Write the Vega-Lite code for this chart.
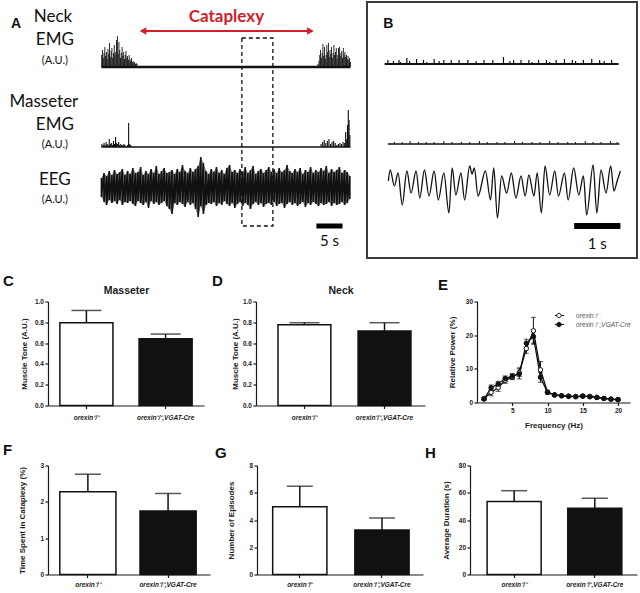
{
"$schema":"https://vega.github.io/schema/vega-lite/v6.json",
"background":"white",
"padding":{"left":3,"top":1,"right":0,"bottom":0},
"config":{
 "view":{"stroke":null},
 "axis":{"grid":false,"labelOverlap":false,"domainColor":"#1a1a1a","tickColor":"#1a1a1a","labelColor":"#1a1a1a","titleColor":"#1a1a1a","labelFont":"Liberation Sans","titleFont":"Liberation Sans","labelFontWeight":"bold","titleFontWeight":"bold","labelFontSize":6.5,"titleFontSize":8,"tickSize":3,"labelPadding":1.5,"domainWidth":1.2,"tickWidth":1.2},
 "title":{"font":"Liberation Sans","fontWeight":"bold","fontSize":15,"color":"#111","anchor":"start","frame":"group"},
 "text":{"font":"Liberation Sans"}
},
"resolve":{"scale":{"fill":"independent"},"legend":{"fill":"independent"}},
"vconcat":[
 {"hconcat":[
  {"width":317,"height":256,
   "resolve":{"scale":{"y":"independent"}},
   "layer":[
    {"data":{"values":[{"t":0.05,"a":12},{"t":0.2,"a":17},{"t":0.35,"a":9},{"t":0.5,"a":14},{"t":0.65,"a":20},{"t":0.8,"a":11},{"t":0.95,"a":15},{"t":1.1,"a":8},{"t":1.25,"a":18},{"t":1.4,"a":13},{"t":1.55,"a":24},{"t":1.7,"a":10},{"t":1.85,"a":16},{"t":2.0,"a":19},{"t":2.15,"a":9},{"t":2.3,"a":14},{"t":2.45,"a":22},{"t":2.6,"a":12},{"t":2.75,"a":15},{"t":2.9,"a":27},{"t":3.05,"a":31},{"t":3.2,"a":13},{"t":3.35,"a":25},{"t":3.5,"a":17},{"t":3.65,"a":9},{"t":3.8,"a":14},{"t":3.95,"a":20},{"t":4.1,"a":11},{"t":4.25,"a":15},{"t":4.4,"a":8},{"t":4.55,"a":12},{"t":4.7,"a":16},{"t":4.85,"a":9},{"t":5.0,"a":11},{"t":5.15,"a":7},{"t":5.3,"a":12},{"t":5.45,"a":8},{"t":5.6,"a":6},{"t":5.75,"a":9},{"t":5.9,"a":5},{"t":6.05,"a":6},{"t":6.2,"a":4},{"t":6.35,"a":5},{"t":6.5,"a":3},{"t":6.65,"a":4},{"t":6.8,"a":3},
      {"t":41.4,"a":3},{"t":41.6,"a":6},{"t":41.75,"a":12},{"t":41.9,"a":17},{"t":42.05,"a":9},{"t":42.2,"a":14},{"t":42.35,"a":23},{"t":42.5,"a":11},{"t":42.65,"a":20},{"t":42.8,"a":8},{"t":42.95,"a":12},{"t":43.1,"a":22},{"t":43.25,"a":15},{"t":43.4,"a":24},{"t":43.55,"a":10},{"t":43.7,"a":17},{"t":43.85,"a":13},{"t":44.0,"a":20},{"t":44.15,"a":9},{"t":44.3,"a":14},{"t":44.45,"a":22},{"t":44.6,"a":12},{"t":44.75,"a":15},{"t":44.9,"a":19},{"t":45.05,"a":8},{"t":45.2,"a":12},{"t":45.35,"a":19},{"t":45.5,"a":20},{"t":45.65,"a":11},{"t":45.8,"a":14},{"t":45.95,"a":16},{"t":46.1,"a":9},{"t":46.25,"a":19},{"t":46.4,"a":12},{"t":46.55,"a":15},{"t":46.7,"a":10},{"t":46.85,"a":12},{"t":47.0,"a":8},{"t":47.15,"a":11},{"t":47.3,"a":7},{"t":47.45,"a":9},{"t":47.6,"a":5}]},
     "mark":{"type":"bar","orient":"vertical","size":0.9,"color":"#111"},
     "encoding":{"x":{"field":"t","type":"quantitative","scale":{"domain":[-9.26,49.44],"nice":false,"zero":false},"axis":null},
      "y":{"field":"a","type":"quantitative","scale":{"domain":[-191,65],"nice":false},"axis":null}}},
    {"data":{"values":[{"t0":0,"t1":47.6}]},"mark":{"type":"rule","strokeWidth":2.5,"color":"#111"},
     "encoding":{"x":{"field":"t0","type":"quantitative","scale":{"domain":[-9.26,49.44],"nice":false,"zero":false},"axis":null},"x2":{"field":"t1"},
      "y":{"datum":0,"type":"quantitative","scale":{"domain":[-191,65],"nice":false},"axis":null}}},
    {"data":{"values":[{"t":0.1,"a":3},{"t":0.3,"a":2},{"t":0.5,"a":4},{"t":0.7,"a":2},{"t":0.9,"a":5},{"t":1.1,"a":3},{"t":1.3,"a":2},{"t":1.5,"a":8},{"t":1.7,"a":3},{"t":1.9,"a":4},{"t":2.1,"a":2},{"t":2.3,"a":6},{"t":2.5,"a":3},{"t":2.7,"a":10},{"t":2.9,"a":4},{"t":3.1,"a":3},{"t":3.3,"a":5},{"t":3.5,"a":2},{"t":3.7,"a":3},{"t":3.9,"a":2},{"t":4.1,"a":2},{"t":4.3,"a":3},{"t":4.5,"a":2},{"t":5.0,"a":2},{"t":5.2,"a":24},{"t":5.4,"a":3},{"t":5.6,"a":2},
      {"t":42.0,"a":3},{"t":42.3,"a":5},{"t":42.6,"a":7},{"t":42.9,"a":4},{"t":43.2,"a":6},{"t":43.5,"a":8},{"t":43.8,"a":3},{"t":44.1,"a":5},{"t":44.4,"a":6},{"t":44.7,"a":4},{"t":45.0,"a":2},{"t":45.3,"a":3},{"t":45.6,"a":4},{"t":45.9,"a":3},{"t":46.2,"a":5},{"t":46.5,"a":4},{"t":46.7,"a":15},{"t":46.9,"a":8},{"t":47.05,"a":22},{"t":47.2,"a":37},{"t":47.35,"a":27},{"t":47.5,"a":12}]},
     "mark":{"type":"bar","orient":"vertical","size":1.1,"color":"#111"},
     "encoding":{"x":{"field":"t","type":"quantitative","scale":{"domain":[-9.26,49.44],"nice":false,"zero":false},"axis":null},
      "y":{"field":"a","type":"quantitative","scale":{"domain":[-111,145],"nice":false},"axis":null}}},
    {"data":{"values":[{"t0":0,"t1":47.6}]},"mark":{"type":"rule","strokeWidth":1.6,"color":"#111"},
     "encoding":{"x":{"field":"t0","type":"quantitative","scale":{"domain":[-9.26,49.44],"nice":false,"zero":false},"axis":null},"x2":{"field":"t1"},
      "y":{"datum":0,"type":"quantitative","scale":{"domain":[-111,145],"nice":false},"axis":null}}},
    {"data":{"name":"eegA","values":[{"t":0.0,"hi":10,"lo":-9},{"t":0.5,"hi":15,"lo":-14},{"t":1.0,"hi":12,"lo":-17},{"t":1.5,"hi":17,"lo":-12},{"t":2.0,"hi":13,"lo":-15},{"t":2.5,"hi":18,"lo":-13},{"t":3.0,"hi":14,"lo":-16},{"t":3.5,"hi":16,"lo":-12},{"t":4.0,"hi":19,"lo":-17},{"t":4.5,"hi":13,"lo":-14},{"t":5.0,"hi":17,"lo":-15},{"t":5.5,"hi":14,"lo":-13},{"t":6.0,"hi":20,"lo":-16},{"t":6.5,"hi":15,"lo":-18},{"t":7.0,"hi":16,"lo":-13},{"t":7.5,"hi":21,"lo":-15},{"t":8.0,"hi":13,"lo":-17},{"t":8.5,"hi":17,"lo":-14},{"t":9.0,"hi":14,"lo":-20},{"t":9.5,"hi":19,"lo":-13},{"t":10.0,"hi":15,"lo":-16},{"t":10.5,"hi":22,"lo":-14},{"t":11.0,"hi":14,"lo":-17},{"t":11.5,"hi":17,"lo":-15},{"t":12.0,"hi":20,"lo":-13},{"t":12.5,"hi":15,"lo":-18},{"t":13.0,"hi":16,"lo":-21},{"t":13.5,"hi":18,"lo":-26},{"t":14.0,"hi":14,"lo":-15},{"t":14.5,"hi":19,"lo":-17},{"t":15.0,"hi":16,"lo":-14},{"t":15.5,"hi":23,"lo":-16},{"t":16.0,"hi":17,"lo":-19},{"t":16.5,"hi":15,"lo":-14},{"t":17.0,"hi":20,"lo":-17},{"t":17.5,"hi":16,"lo":-15},{"t":18.0,"hi":19,"lo":-21},{"t":18.5,"hi":22,"lo":-29},{"t":19.0,"hi":31,"lo":-18},{"t":19.5,"hi":25,"lo":-26},{"t":20.0,"hi":17,"lo":-17},{"t":20.5,"hi":14,"lo":-15},{"t":21.0,"hi":19,"lo":-16},{"t":21.5,"hi":16,"lo":-14},{"t":22.0,"hi":21,"lo":-18},{"t":22.5,"hi":15,"lo":-15},{"t":23.0,"hi":18,"lo":-17},{"t":23.5,"hi":14,"lo":-13},{"t":24.0,"hi":20,"lo":-16},{"t":24.5,"hi":23,"lo":-18},{"t":25.0,"hi":16,"lo":-15},{"t":25.5,"hi":18,"lo":-20},{"t":26.0,"hi":15,"lo":-16},{"t":26.5,"hi":19,"lo":-14},{"t":27.0,"hi":16,"lo":-18},{"t":27.5,"hi":21,"lo":-15},{"t":28.0,"hi":15,"lo":-17},{"t":28.5,"hi":18,"lo":-21},{"t":29.0,"hi":22,"lo":-16},{"t":29.5,"hi":14,"lo":-14},{"t":30.0,"hi":17,"lo":-17},{"t":30.5,"hi":19,"lo":-15},{"t":31.0,"hi":15,"lo":-19},{"t":31.5,"hi":18,"lo":-16},{"t":32.0,"hi":21,"lo":-15},{"t":32.5,"hi":16,"lo":-17},{"t":33.0,"hi":19,"lo":-14},{"t":33.5,"hi":15,"lo":-18},{"t":34.0,"hi":20,"lo":-16},{"t":34.5,"hi":16,"lo":-15},{"t":35.0,"hi":18,"lo":-20},{"t":35.5,"hi":23,"lo":-16},{"t":36.0,"hi":17,"lo":-14},{"t":36.5,"hi":15,"lo":-17},{"t":37.0,"hi":19,"lo":-15},{"t":37.5,"hi":16,"lo":-18},{"t":38.0,"hi":20,"lo":-16},{"t":38.5,"hi":14,"lo":-14},{"t":39.0,"hi":18,"lo":-19},{"t":39.5,"hi":16,"lo":-15},{"t":40.0,"hi":21,"lo":-17},{"t":40.5,"hi":15,"lo":-14},{"t":41.0,"hi":18,"lo":-16},{"t":41.5,"hi":16,"lo":-18},{"t":42.0,"hi":20,"lo":-15},{"t":42.5,"hi":17,"lo":-17},{"t":43.0,"hi":22,"lo":-16},{"t":43.5,"hi":15,"lo":-14},{"t":44.0,"hi":19,"lo":-18},{"t":44.5,"hi":16,"lo":-15},{"t":45.0,"hi":18,"lo":-17},{"t":45.5,"hi":21,"lo":-16},{"t":46.0,"hi":15,"lo":-14},{"t":46.5,"hi":18,"lo":-17},{"t":47.0,"hi":16,"lo":-15},{"t":47.5,"hi":12,"lo":-11}]},
     "mark":{"type":"area","color":"#111","opacity":0.55},
     "encoding":{"x":{"field":"t","type":"quantitative","scale":{"domain":[-9.26,49.44],"nice":false,"zero":false},"axis":null},
      "y":{"field":"hi","type":"quantitative","scale":{"domain":[-70,186],"nice":false},"axis":null},"y2":{"field":"lo"}}},
    {"data":{"name":"eegA"},
     "transform":[{"fold":["hi","lo"],"as":["k","v"]}],
     "mark":{"type":"line","color":"#111","strokeWidth":1.6},
     "encoding":{"x":{"field":"t","type":"quantitative","scale":{"domain":[-9.26,49.44],"nice":false,"zero":false},"axis":null},
      "y":{"field":"v","type":"quantitative","scale":{"domain":[-70,186],"nice":false},"axis":null},
      "order":[{"field":"t","type":"quantitative"},{"field":"k","type":"nominal"}]}},
    {"data":{"values":[{"t0":7.6,"t1":40.3}]},"mark":{"type":"rule","strokeWidth":2,"color":"#d0202a"},
     "encoding":{"x":{"field":"t0","type":"quantitative","scale":{"domain":[-9.26,49.44],"nice":false,"zero":false},"axis":null},"x2":{"field":"t1"},
      "y":{"datum":36,"type":"quantitative","scale":{"domain":[-191,65],"nice":false},"axis":null}}},
    {"data":{"values":[{}]},"mark":{"type":"point","shape":"triangle-left","filled":true,"size":60,"color":"#d0202a","opacity":1},
     "encoding":{"x":{"datum":7.95,"type":"quantitative","scale":{"domain":[-9.26,49.44],"nice":false,"zero":false},"axis":null},
      "y":{"datum":36,"type":"quantitative","scale":{"domain":[-191,65],"nice":false},"axis":null}}},
    {"data":{"values":[{}]},"mark":{"type":"point","shape":"triangle-right","filled":true,"size":60,"color":"#d0202a","opacity":1},
     "encoding":{"x":{"datum":39.96,"type":"quantitative","scale":{"domain":[-9.26,49.44],"nice":false,"zero":false},"axis":null},
      "y":{"datum":36,"type":"quantitative","scale":{"domain":[-191,65],"nice":false},"axis":null}}},
    {"data":{"values":[{}]},"mark":{"type":"text","text":"Cataplexy","font":"Lato","fontWeight":"bold","fontSize":17,"color":"#d0202a","baseline":"middle"},
     "encoding":{"x":{"datum":23.9,"type":"quantitative","scale":{"domain":[-9.26,49.44],"nice":false,"zero":false},"axis":null},
      "y":{"datum":50,"type":"quantitative","scale":{"domain":[-191,65],"nice":false},"axis":null}}},
    {"data":{"values":[{"t0":26.85,"t1":32.78,"top":29,"bottom":-159}]},"mark":{"type":"rect","fillOpacity":0,"stroke":"#111","strokeWidth":1.3,"strokeDash":[4,3]},
     "encoding":{"x":{"field":"t0","type":"quantitative","scale":{"domain":[-9.26,49.44],"nice":false,"zero":false},"axis":null},"x2":{"field":"t1"},
      "y":{"field":"top","type":"quantitative","scale":{"domain":[-191,65],"nice":false},"axis":null},"y2":{"field":"bottom"}}},
    {"data":{"values":[{"t0":41.1,"t1":46.1}]},"mark":{"type":"rule","strokeWidth":5,"color":"#000"},
     "encoding":{"x":{"field":"t0","type":"quantitative","scale":{"domain":[-9.26,49.44],"nice":false,"zero":false},"axis":null},"x2":{"field":"t1"},
      "y":{"datum":-38,"type":"quantitative","scale":{"domain":[-70,186],"nice":false},"axis":null}}},
    {"data":{"values":[{}]},"mark":{"type":"text","text":"5 s","font":"Lato","fontSize":15,"color":"#111","baseline":"middle"},
     "encoding":{"x":{"datum":43.6,"type":"quantitative","scale":{"domain":[-9.26,49.44],"nice":false,"zero":false},"axis":null},
      "y":{"datum":-53,"type":"quantitative","scale":{"domain":[-70,186],"nice":false},"axis":null}}},
    {"data":{"values":[{}]},"mark":{"type":"text","text":"A","font":"Liberation Sans","fontWeight":"bold","fontSize":14,"color":"#111","baseline":"middle"},
     "encoding":{"x":{"datum":-16.3,"type":"quantitative","scale":{"domain":[-9.26,49.44],"nice":false,"zero":false},"axis":null},
      "y":{"datum":43,"type":"quantitative","scale":{"domain":[-191,65],"nice":false},"axis":null}}},
    {"data":{"values":[{}]},"mark":{"type":"text","text":"Neck","font":"Lato","fontSize":17,"color":"#111","baseline":"middle"},
     "encoding":{"x":{"datum":-9.26,"type":"quantitative","scale":{"domain":[-9.26,49.44],"nice":false,"zero":false},"axis":null},
      "y":{"datum":50,"type":"quantitative","scale":{"domain":[-191,65],"nice":false},"axis":null}}},
    {"data":{"values":[{}]},"mark":{"type":"text","text":"EMG","font":"Lato","fontSize":17,"color":"#111","baseline":"middle"},
     "encoding":{"x":{"datum":-8.9,"type":"quantitative","scale":{"domain":[-9.26,49.44],"nice":false,"zero":false},"axis":null},
      "y":{"datum":27,"type":"quantitative","scale":{"domain":[-191,65],"nice":false},"axis":null}}},
    {"data":{"values":[{}]},"mark":{"type":"text","text":"(A.U.)","font":"Lato","fontSize":11,"color":"#111","baseline":"middle"},
     "encoding":{"x":{"datum":-8.9,"type":"quantitative","scale":{"domain":[-9.26,49.44],"nice":false,"zero":false},"axis":null},
      "y":{"datum":6,"type":"quantitative","scale":{"domain":[-191,65],"nice":false},"axis":null}}},
    {"data":{"values":[{}]},"mark":{"type":"text","text":"Masseter","font":"Lato","fontSize":17,"color":"#111","baseline":"middle"},
     "encoding":{"x":{"datum":-11.0,"type":"quantitative","scale":{"domain":[-9.26,49.44],"nice":false,"zero":false},"axis":null},
      "y":{"datum":45,"type":"quantitative","scale":{"domain":[-111,145],"nice":false},"axis":null}}},
    {"data":{"values":[{}]},"mark":{"type":"text","text":"EMG","font":"Lato","fontSize":17,"color":"#111","baseline":"middle"},
     "encoding":{"x":{"datum":-8.9,"type":"quantitative","scale":{"domain":[-9.26,49.44],"nice":false,"zero":false},"axis":null},
      "y":{"datum":22,"type":"quantitative","scale":{"domain":[-111,145],"nice":false},"axis":null}}},
    {"data":{"values":[{}]},"mark":{"type":"text","text":"(A.U.)","font":"Lato","fontSize":11,"color":"#111","baseline":"middle"},
     "encoding":{"x":{"datum":-8.9,"type":"quantitative","scale":{"domain":[-9.26,49.44],"nice":false,"zero":false},"axis":null},
      "y":{"datum":2,"type":"quantitative","scale":{"domain":[-111,145],"nice":false},"axis":null}}},
    {"data":{"values":[{}]},"mark":{"type":"text","text":"EEG","font":"Lato","fontSize":17,"color":"#111","baseline":"middle"},
     "encoding":{"x":{"datum":-8.9,"type":"quantitative","scale":{"domain":[-9.26,49.44],"nice":false,"zero":false},"axis":null},
      "y":{"datum":8,"type":"quantitative","scale":{"domain":[-70,186],"nice":false},"axis":null}}},
    {"data":{"values":[{}]},"mark":{"type":"text","text":"(A.U.)","font":"Lato","fontSize":11,"color":"#111","baseline":"middle"},
     "encoding":{"x":{"datum":-8.9,"type":"quantitative","scale":{"domain":[-9.26,49.44],"nice":false,"zero":false},"axis":null},
      "y":{"datum":-12,"type":"quantitative","scale":{"domain":[-70,186],"nice":false},"axis":null}}}
   ]},
  {"width":270,"height":256,
   "view":{"stroke":"#3c3c3c","strokeWidth":2},
   "resolve":{"scale":{"y":"independent"}},
   "layer":[
    {"data":{"values":[{}]},"mark":{"type":"text","text":"B","font":"Liberation Sans","fontWeight":"bold","fontSize":14,"color":"#111","baseline":"middle"},
     "encoding":{"x":{"datum":0,"type":"quantitative","scale":{"domain":[-0.354,5.271],"nice":false,"zero":false},"axis":null},
      "y":{"datum":40,"type":"quantitative","scale":{"domain":[-194,62],"nice":false},"axis":null}}},
    {"data":{"values":[{"t0":-0.08,"t1":4.98}]},"mark":{"type":"rule","strokeWidth":2,"color":"#111"},
     "encoding":{"x":{"field":"t0","type":"quantitative","scale":{"domain":[-0.354,5.271],"nice":false,"zero":false},"axis":null},"x2":{"field":"t1"},
      "y":{"datum":0,"type":"quantitative","scale":{"domain":[-194,62],"nice":false},"axis":null}}},
    {"data":{"values":[{"t":-0.01,"a":4},{"t":0.11,"a":3},{"t":0.23,"a":4},{"t":0.26,"a":2},{"t":0.4,"a":6},{"t":0.46,"a":3},{"t":0.61,"a":5},{"t":0.76,"a":4},{"t":0.83,"a":2},{"t":0.99,"a":5},{"t":1.1,"a":3},{"t":1.2,"a":4},{"t":1.36,"a":4},{"t":1.53,"a":4},{"t":1.72,"a":4},{"t":1.9,"a":3},{"t":2.07,"a":4},{"t":2.26,"a":4},{"t":2.49,"a":7},{"t":2.63,"a":3},{"t":2.71,"a":4},{"t":2.87,"a":4},{"t":3.04,"a":4},{"t":3.11,"a":2},{"t":3.25,"a":4},{"t":3.42,"a":4},{"t":3.49,"a":2},{"t":3.63,"a":4},{"t":3.81,"a":5},{"t":3.98,"a":4},{"t":4.05,"a":3},{"t":4.22,"a":4},{"t":4.4,"a":5},{"t":4.57,"a":4},{"t":4.67,"a":3},{"t":4.83,"a":4}]},
     "mark":{"type":"bar","orient":"vertical","size":1.2,"color":"#111"},
     "encoding":{"x":{"field":"t","type":"quantitative","scale":{"domain":[-0.354,5.271],"nice":false,"zero":false},"axis":null},
      "y":{"field":"a","type":"quantitative","scale":{"domain":[-194,62],"nice":false},"axis":null}}},
    {"data":{"values":[{"t0":-0.01,"t1":5.0}]},"mark":{"type":"rule","strokeWidth":1.5,"color":"#111"},
     "encoding":{"x":{"field":"t0","type":"quantitative","scale":{"domain":[-0.354,5.271],"nice":false,"zero":false},"axis":null},"x2":{"field":"t1"},
      "y":{"datum":0,"type":"quantitative","scale":{"domain":[-114,142],"nice":false},"axis":null}}},
    {"data":{"values":[{"t":0.13,"a":2},{"t":0.3,"a":2},{"t":0.47,"a":3},{"t":0.65,"a":2},{"t":0.82,"a":2},{"t":0.99,"a":2},{"t":1.2,"a":3},{"t":1.38,"a":2},{"t":1.58,"a":2},{"t":1.76,"a":2},{"t":1.97,"a":3},{"t":2.14,"a":2},{"t":2.35,"a":2},{"t":2.52,"a":2},{"t":2.73,"a":3},{"t":2.9,"a":2},{"t":3.11,"a":2},{"t":3.28,"a":2},{"t":3.49,"a":3},{"t":3.67,"a":2},{"t":3.88,"a":2},{"t":4.05,"a":2},{"t":4.26,"a":3},{"t":4.43,"a":2},{"t":4.6,"a":2},{"t":4.81,"a":3},{"t":4.95,"a":2}]},
     "mark":{"type":"bar","orient":"vertical","size":1,"color":"#111"},
     "encoding":{"x":{"field":"t","type":"quantitative","scale":{"domain":[-0.354,5.271],"nice":false,"zero":false},"axis":null},
      "y":{"field":"a","type":"quantitative","scale":{"domain":[-114,142],"nice":false},"axis":null}}},
    {"data":{"values":[{"t":0.0,"v":2},{"t":0.04,"v":13},{"t":0.13,"v":-3},{"t":0.21,"v":10},{"t":0.3,"v":-22},{"t":0.4,"v":12},{"t":0.49,"v":-10},{"t":0.6,"v":12},{"t":0.68,"v":-15},{"t":0.78,"v":13},{"t":0.88,"v":-13},{"t":0.99,"v":12},{"t":1.08,"v":-17},{"t":1.2,"v":10},{"t":1.31,"v":-30},{"t":1.38,"v":15},{"t":1.46,"v":-12},{"t":1.57,"v":10},{"t":1.65,"v":-17},{"t":1.76,"v":17},{"t":1.81,"v":9},{"t":1.86,"v":15},{"t":1.94,"v":-13},{"t":2.1,"v":12},{"t":2.21,"v":-17},{"t":2.28,"v":15},{"t":2.36,"v":-35},{"t":2.45,"v":7},{"t":2.56,"v":-10},{"t":2.66,"v":10},{"t":2.76,"v":-15},{"t":2.87,"v":7},{"t":2.96,"v":-13},{"t":3.04,"v":8},{"t":3.15,"v":-13},{"t":3.22,"v":10},{"t":3.31,"v":-30},{"t":3.39,"v":17},{"t":3.49,"v":-12},{"t":3.6,"v":12},{"t":3.68,"v":-13},{"t":3.81,"v":10},{"t":3.89,"v":-17},{"t":4.01,"v":15},{"t":4.12,"v":-12},{"t":4.22,"v":7},{"t":4.29,"v":-32},{"t":4.43,"v":18},{"t":4.51,"v":-30},{"t":4.6,"v":13},{"t":4.71,"v":-10},{"t":4.81,"v":17},{"t":4.88,"v":-8},{"t":4.95,"v":2},{"t":5.02,"v":12}]},
     "mark":{"type":"line","strokeWidth":1.3,"color":"#111","interpolate":"monotone"},
     "encoding":{"x":{"field":"t","type":"quantitative","scale":{"domain":[-0.354,5.271],"nice":false,"zero":false},"axis":null},
      "y":{"field":"v","type":"quantitative","scale":{"domain":[-75,181],"nice":false},"axis":null}}},
    {"data":{"values":[{"t0":4.02,"t1":5.02}]},"mark":{"type":"rule","strokeWidth":6,"color":"#000"},
     "encoding":{"x":{"field":"t0","type":"quantitative","scale":{"domain":[-0.354,5.271],"nice":false,"zero":false},"axis":null},"x2":{"field":"t1"},
      "y":{"datum":-43,"type":"quantitative","scale":{"domain":[-75,181],"nice":false},"axis":null}}},
    {"data":{"values":[{}]},"mark":{"type":"text","text":"1 s","font":"Lato","fontSize":15,"color":"#111","baseline":"middle"},
     "encoding":{"x":{"datum":4.52,"type":"quantitative","scale":{"domain":[-0.354,5.271],"nice":false,"zero":false},"axis":null},
      "y":{"datum":-61,"type":"quantitative","scale":{"domain":[-75,181],"nice":false},"axis":null}}}
   ]}
 ],"spacing":2,"bounds":"flush"},
 {"vconcat":[
  {"hconcat":[
   {"width":156,"height":104,
    "title":{"text":"C","dx":-45,"offset":-3.5},
    "data":{"values":[{"group":"orexin⁻/⁻","mean":0.795,"upper":0.914},{"group":"orexin⁻/⁻,VGAT-Cre","mean":0.642,"upper":0.687}]},
    "resolve":{"axis":{"x":"independent"}},
    "layer":[
     {"mark":{"type":"bar","stroke":"#111","strokeWidth":1.5},
      "encoding":{"x":{"field":"group","type":"nominal","sort":null,"scale":{"paddingInner":0.33,"paddingOuter":0.15,"align":0.5},"axis":{"orient":"bottom","title":null,"labelAngle":0,"labelFontStyle":"italic","labelFontSize":6.5,"labelPadding":6,"labelOverlap":false}},
       "y":{"field":"mean","type":"quantitative","scale":{"domain":[0,1],"nice":false},"axis":{"values":[0,0.2,0.4,0.6,0.8,1],"tickCount":12,"format":".1f","title":"Muscle Tone (A.U.)","titlePadding":6,"labelOverlap":false,"labelFlush":false}},
       "fill":{"condition":{"test":"indexof(datum.group,'VGAT')<0","value":"white"},"value":"#111"}}},
     {"mark":{"type":"rule","strokeWidth":1.5,"color":"#111"},
      "encoding":{"x":{"field":"group","type":"nominal","sort":null,"axis":null},"y":{"field":"mean","type":"quantitative"},"y2":{"field":"upper"}}},
     {"mark":{"type":"tick","thickness":1.5,"size":30,"color":"#111","orient":"horizontal"},
      "encoding":{"x":{"field":"group","type":"nominal","sort":null,"axis":{"orient":"top","title":"Masseter","labels":false,"ticks":false,"domain":false,"titleFontSize":10.5,"titlePadding":6}},"y":{"field":"upper","type":"quantitative"}}}
    ]},
   {"width":169,"height":104,
    "title":{"text":"D","dx":-44,"offset":-3.5},
    "data":{"values":[{"group":"orexin⁻/⁻","mean":0.777,"upper":0.796},{"group":"orexin⁻/⁻,VGAT-Cre","mean":0.717,"upper":0.796}]},
    "resolve":{"axis":{"x":"independent"}},
    "layer":[
     {"mark":{"type":"bar","stroke":"#111","strokeWidth":1.5},
      "encoding":{"x":{"field":"group","type":"nominal","sort":null,"scale":{"paddingInner":0.34,"paddingOuter":0.225,"align":0.61},"axis":{"orient":"bottom","title":null,"labelAngle":0,"labelFontStyle":"italic","labelFontSize":6.5,"labelPadding":6,"labelOverlap":false}},
       "y":{"field":"mean","type":"quantitative","scale":{"domain":[0,1],"nice":false},"axis":{"values":[0,0.2,0.4,0.6,0.8,1],"tickCount":12,"format":".1f","title":"Muscle Tone (A.U.)","titlePadding":3,"labelOverlap":false,"labelFlush":false}},
       "fill":{"condition":{"test":"indexof(datum.group,'VGAT')<0","value":"white"},"value":"#111"}}},
     {"mark":{"type":"rule","strokeWidth":1.5,"color":"#111"},
      "encoding":{"x":{"field":"group","type":"nominal","sort":null,"axis":null},"y":{"field":"mean","type":"quantitative"},"y2":{"field":"upper"}}},
     {"mark":{"type":"tick","thickness":1.5,"size":30,"color":"#111","orient":"horizontal"},
      "encoding":{"x":{"field":"group","type":"nominal","sort":null,"axis":{"orient":"top","title":"Neck","labels":false,"ticks":false,"domain":false,"titleFontSize":10.5,"titlePadding":6}},"y":{"field":"upper","type":"quantitative"}}}
    ]},
   {"width":153,"height":101,
    "title":{"text":"E","dx":-39,"offset":6},
    "data":{"values":[
     {"hz":1,"group":"orexin⁻/⁻","mean":1.2,"lo":0.9,"hi":1.5},{"hz":2,"group":"orexin⁻/⁻","mean":3.0,"lo":2.0,"hi":4.0},{"hz":3,"group":"orexin⁻/⁻","mean":4.4,"lo":3.3,"hi":5.5},{"hz":4,"group":"orexin⁻/⁻","mean":6.6,"lo":5.7,"hi":7.5},{"hz":5,"group":"orexin⁻/⁻","mean":7.5,"lo":6.8,"hi":8.3},{"hz":6,"group":"orexin⁻/⁻","mean":8.9,"lo":7.7,"hi":10.3},{"hz":7,"group":"orexin⁻/⁻","mean":16.0,"lo":14.6,"hi":17.6},{"hz":8,"group":"orexin⁻/⁻","mean":21.3,"lo":17.3,"hi":25.3},{"hz":9,"group":"orexin⁻/⁻","mean":9.7,"lo":7.6,"hi":12.2},{"hz":10,"group":"orexin⁻/⁻","mean":3.1,"lo":2.6,"hi":3.6},{"hz":11,"group":"orexin⁻/⁻","mean":2.2,"lo":1.9,"hi":2.5},{"hz":12,"group":"orexin⁻/⁻","mean":2.0,"lo":1.8,"hi":2.2},{"hz":13,"group":"orexin⁻/⁻","mean":1.8,"lo":1.6,"hi":2.0},{"hz":14,"group":"orexin⁻/⁻","mean":1.7,"lo":1.5,"hi":1.9},{"hz":15,"group":"orexin⁻/⁻","mean":1.9,"lo":1.6,"hi":2.2},{"hz":16,"group":"orexin⁻/⁻","mean":1.8,"lo":1.5,"hi":2.1},{"hz":17,"group":"orexin⁻/⁻","mean":1.5,"lo":1.3,"hi":1.7},{"hz":18,"group":"orexin⁻/⁻","mean":1.2,"lo":1.0,"hi":1.4},{"hz":19,"group":"orexin⁻/⁻","mean":1.0,"lo":0.8,"hi":1.2},{"hz":20,"group":"orexin⁻/⁻","mean":0.8,"lo":0.6,"hi":1.0},
     {"hz":1,"group":"orexin⁻/⁻,VGAT-Cre","mean":1.0,"lo":0.7,"hi":1.3},{"hz":2,"group":"orexin⁻/⁻,VGAT-Cre","mean":4.4,"lo":3.6,"hi":5.2},{"hz":3,"group":"orexin⁻/⁻,VGAT-Cre","mean":5.5,"lo":4.7,"hi":6.3},{"hz":4,"group":"orexin⁻/⁻,VGAT-Cre","mean":7.1,"lo":6.3,"hi":7.9},{"hz":5,"group":"orexin⁻/⁻,VGAT-Cre","mean":7.8,"lo":7.0,"hi":8.6},{"hz":6,"group":"orexin⁻/⁻,VGAT-Cre","mean":8.5,"lo":7.0,"hi":10.0},{"hz":7,"group":"orexin⁻/⁻,VGAT-Cre","mean":17.6,"lo":16.4,"hi":18.8},{"hz":8,"group":"orexin⁻/⁻,VGAT-Cre","mean":19.6,"lo":17.6,"hi":21.6},{"hz":9,"group":"orexin⁻/⁻,VGAT-Cre","mean":7.5,"lo":6.0,"hi":9.0},{"hz":10,"group":"orexin⁻/⁻,VGAT-Cre","mean":3.0,"lo":2.5,"hi":3.5},{"hz":11,"group":"orexin⁻/⁻,VGAT-Cre","mean":2.3,"lo":2.0,"hi":2.6},{"hz":12,"group":"orexin⁻/⁻,VGAT-Cre","mean":2.0,"lo":1.8,"hi":2.2},{"hz":13,"group":"orexin⁻/⁻,VGAT-Cre","mean":1.9,"lo":1.7,"hi":2.1},{"hz":14,"group":"orexin⁻/⁻,VGAT-Cre","mean":1.8,"lo":1.6,"hi":2.0},{"hz":15,"group":"orexin⁻/⁻,VGAT-Cre","mean":1.9,"lo":1.6,"hi":2.2},{"hz":16,"group":"orexin⁻/⁻,VGAT-Cre","mean":1.7,"lo":1.4,"hi":2.0},{"hz":17,"group":"orexin⁻/⁻,VGAT-Cre","mean":1.5,"lo":1.3,"hi":1.7},{"hz":18,"group":"orexin⁻/⁻,VGAT-Cre","mean":1.2,"lo":1.0,"hi":1.4},{"hz":19,"group":"orexin⁻/⁻,VGAT-Cre","mean":1.0,"lo":0.8,"hi":1.2},{"hz":20,"group":"orexin⁻/⁻,VGAT-Cre","mean":0.9,"lo":0.7,"hi":1.1}]},
    "layer":[
     {"mark":{"type":"rule","strokeWidth":1,"color":"#111"},
      "encoding":{"x":{"field":"hz","type":"quantitative","scale":{"domain":[0,21.7],"nice":false,"zero":false},"axis":{"values":[5,10,15,20],"tickCount":12,"title":"Frequency (Hz)","titlePadding":8,"labelOverlap":false}},
       "y":{"field":"lo","type":"quantitative","scale":{"domain":[0,30],"nice":false},"axis":{"values":[0,10,20,30],"tickCount":12,"title":"Relative Power (%)","titlePadding":9,"labelOverlap":false,"labelFlush":false}},"y2":{"field":"hi"}}},
     {"mark":{"type":"tick","orient":"horizontal","size":5,"thickness":1,"color":"#111"},
      "encoding":{"x":{"field":"hz","type":"quantitative"},"y":{"field":"hi","type":"quantitative"}}},
     {"mark":{"type":"tick","orient":"horizontal","size":5,"thickness":1,"color":"#111"},
      "encoding":{"x":{"field":"hz","type":"quantitative"},"y":{"field":"lo","type":"quantitative"}}},
     {"mark":{"type":"line","strokeWidth":1.3,"color":"#111"},
      "encoding":{"x":{"field":"hz","type":"quantitative"},"y":{"field":"mean","type":"quantitative"},"detail":{"field":"group","type":"nominal"}}},
     {"mark":{"type":"point","filled":true,"size":20,"stroke":"#111","strokeWidth":1,"opacity":1},
      "encoding":{"x":{"field":"hz","type":"quantitative"},"y":{"field":"mean","type":"quantitative"},
       "fill":{"field":"group","type":"nominal","scale":{"domain":["orexin⁻/⁻","orexin⁻/⁻,VGAT-Cre"],"range":["white","#111"]},
        "legend":{"title":null,"orient":"none","legendX":78,"legendY":10,"symbolType":"M-1.6,0L-0.7,0M0.7,0L1.6,0M0.7,0A0.7,0.7,0,1,1,-0.7,0A0.7,0.7,0,1,1,0.7,0","symbolSize":40,"symbolStrokeColor":"#111","symbolStrokeWidth":1,"labelFontSize":6.5,"labelFontStyle":"italic","labelFont":"Liberation Sans","labelColor":"#555","labelOffset":13,"rowPadding":1,"clipHeight":8}}}}
    ]}
  ],"spacing":52,"bounds":"flush","resolve":{"scale":{"fill":"independent"},"legend":{"fill":"independent"}}},
  {"hconcat":[
   {"width":162,"height":109,
    "title":{"text":"F","dx":-45,"offset":5},
    "data":{"values":[{"group":"orexin⁻/⁻","mean":2.28,"upper":2.76},{"group":"orexin⁻/⁻,VGAT-Cre","mean":1.75,"upper":2.23}]},
    "layer":[
     {"mark":{"type":"bar","stroke":"#111","strokeWidth":1.5},
      "encoding":{"x":{"field":"group","type":"nominal","sort":null,"scale":{"paddingInner":0.3,"paddingOuter":0.16,"align":0.46},"axis":{"title":null,"labelAngle":0,"labelFontStyle":"italic","labelFontSize":6.5,"labelPadding":4,"labelOverlap":false}},
       "y":{"field":"mean","type":"quantitative","scale":{"domain":[0,3],"nice":false},"axis":{"values":[0,1,2,3],"tickCount":12,"format":"d","title":"Time Spent in Cataplexy (%)","titleX":-22,"labelOverlap":false,"labelFlush":false}},
       "fill":{"condition":{"test":"indexof(datum.group,'VGAT')<0","value":"white"},"value":"#111"}}},
     {"mark":{"type":"rule","strokeWidth":1.5,"color":"#111"},
      "encoding":{"x":{"field":"group","type":"nominal","sort":null},"y":{"field":"mean","type":"quantitative"},"y2":{"field":"upper"}}},
     {"mark":{"type":"tick","thickness":1.5,"size":26,"color":"#111","orient":"horizontal"},
      "encoding":{"x":{"field":"group","type":"nominal","sort":null},"y":{"field":"upper","type":"quantitative"}}}
    ]},
   {"width":166,"height":109,
    "title":{"text":"G","dx":-42,"offset":2},
    "data":{"values":[{"group":"orexin⁻/⁻","mean":4.98,"upper":6.48},{"group":"orexin⁻/⁻,VGAT-Cre","mean":3.26,"upper":4.15}]},
    "layer":[
     {"mark":{"type":"bar","stroke":"#111","strokeWidth":1.5},
      "encoding":{"x":{"field":"group","type":"nominal","sort":null,"scale":{"paddingInner":0.34,"paddingOuter":0.18,"align":0.53},"axis":{"title":null,"labelAngle":0,"labelFontStyle":"italic","labelFontSize":6.5,"labelPadding":4,"labelOverlap":false}},
       "y":{"field":"mean","type":"quantitative","scale":{"domain":[0,8],"nice":false},"axis":{"values":[0,2,4,6,8],"tickCount":12,"format":"d","title":"Number of Episodes","titlePadding":13,"labelOverlap":false,"labelFlush":false}},
       "fill":{"condition":{"test":"indexof(datum.group,'VGAT')<0","value":"white"},"value":"#111"}}},
     {"mark":{"type":"rule","strokeWidth":1.5,"color":"#111"},
      "encoding":{"x":{"field":"group","type":"nominal","sort":null},"y":{"field":"mean","type":"quantitative"},"y2":{"field":"upper"}}},
     {"mark":{"type":"tick","thickness":1.5,"size":26,"color":"#111","orient":"horizontal"},
      "encoding":{"x":{"field":"group","type":"nominal","sort":null},"y":{"field":"upper","type":"quantitative"}}}
    ]},
   {"width":167,"height":109,
    "title":{"text":"H","dx":-45,"offset":2},
    "data":{"values":[{"group":"orexin⁻/⁻","mean":53.6,"upper":61.5},{"group":"orexin⁻/⁻,VGAT-Cre","mean":48.6,"upper":56.0}]},
    "layer":[
     {"mark":{"type":"bar","stroke":"#111","strokeWidth":1.5},
      "encoding":{"x":{"field":"group","type":"nominal","sort":null,"scale":{"paddingInner":0.33,"paddingOuter":0.2,"align":0.53},"axis":{"title":null,"labelAngle":0,"labelFontStyle":"italic","labelFontSize":6.5,"labelPadding":4,"labelOverlap":false}},
       "y":{"field":"mean","type":"quantitative","scale":{"domain":[0,80],"nice":false},"axis":{"values":[0,20,40,60,80],"tickCount":12,"format":"d","title":"Average Duration (s)","titlePadding":8,"labelOverlap":false,"labelFlush":false}},
       "fill":{"condition":{"test":"indexof(datum.group,'VGAT')<0","value":"white"},"value":"#111"}}},
     {"mark":{"type":"rule","strokeWidth":1.5,"color":"#111"},
      "encoding":{"x":{"field":"group","type":"nominal","sort":null},"y":{"field":"mean","type":"quantitative"},"y2":{"field":"upper"}}},
     {"mark":{"type":"tick","thickness":1.5,"size":26,"color":"#111","orient":"horizontal"},
      "encoding":{"x":{"field":"group","type":"nominal","sort":null},"y":{"field":"upper","type":"quantitative"}}}
    ]}
  ],"spacing":47,"bounds":"flush"}
 ],"spacing":13,"bounds":"full","resolve":{"scale":{"fill":"independent"},"legend":{"fill":"independent"}}}
],
"spacing":14.5,
"bounds":"full"
}
